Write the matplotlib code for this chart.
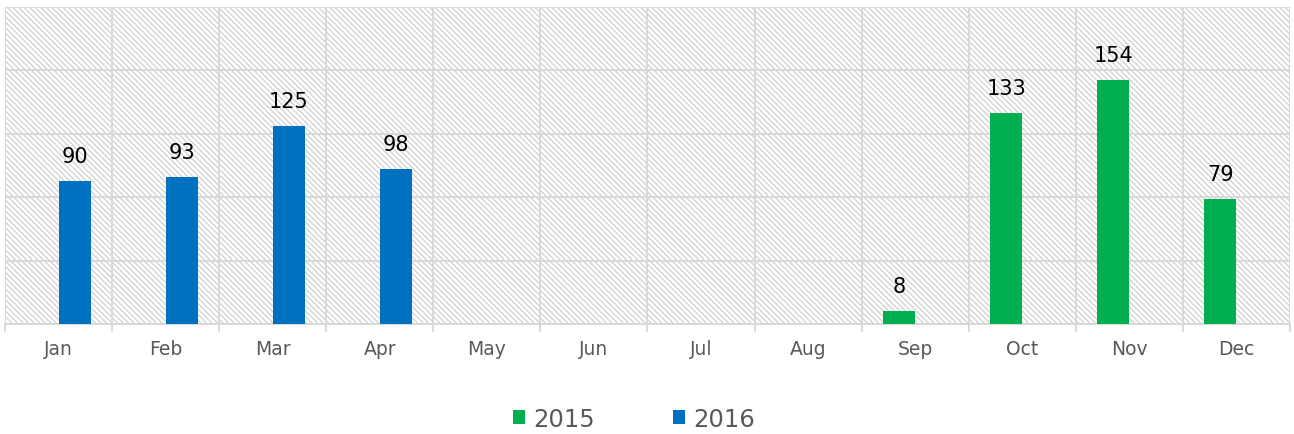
import matplotlib
matplotlib.use('Agg')
import matplotlib.pyplot as plt
from matplotlib.patches import Rectangle, Patch
import numpy as np

months = ['Jan', 'Feb', 'Mar', 'Apr', 'May', 'Jun', 'Jul', 'Aug', 'Sep', 'Oct', 'Nov', 'Dec']
vals_2015 = [np.nan, np.nan, np.nan, np.nan, np.nan, np.nan, np.nan, np.nan, 8, 133, 154, 79]
vals_2016 = [90, 93, 125, 98, np.nan, np.nan, np.nan, np.nan, np.nan, np.nan, np.nan, np.nan]
series_names = ['2015', '2016']
series_colors = ['#00B050', '#0070C0']

grid_col = '#D9D9D9'
text_col = '#595959'
plt.rcParams['hatch.linewidth'] = 0.9

fig = plt.figure(figsize=(12.94, 4.35), dpi=100)
ax = fig.add_axes([5/1294, 110/435, 1285/1294, 317/435])

# hatched background
ax.add_patch(Rectangle((0, 0), 1, 1, transform=ax.transAxes, facecolor='white',
                       edgecolor='#D0D0D0', hatch='\\' * 6, lw=0, zorder=0))

x = np.arange(len(months))
w = 0.3
for vals, off, col in [(vals_2015, -w, series_colors[0]), (vals_2016, 0, series_colors[1])]:
    vals = np.array(vals, dtype=float)
    ax.bar(x + off, vals, width=w, align='edge', color=col, zorder=3)
    for xi, v in zip(x, vals):
        if np.isnan(v):
            continue
        ax.annotate(f'{int(v)}', (xi + off + w / 2, v), xytext=(0, 18), textcoords='offset points',
                    ha='center', va='center', fontsize=15, color='black', zorder=4)

ax.set_xlim(-0.5, 11.5)
ax.set_ylim(0, 200)
ax.set_yticks(np.arange(0, 201, 40))
ax.set_yticklabels([])
ax.tick_params(axis='y', length=0)
ax.set_xticks(x)
ax.set_xticklabels(months, fontsize=13.5, color=text_col)
ax.tick_params(axis='x', which='major', length=0, pad=11)
ax.set_xticks(np.arange(-0.5, 12, 1), minor=True)
ax.tick_params(axis='x', which='minor', length=6, width=1.4, color=grid_col, direction='out')

ax.grid(True, axis='y', color=grid_col, linewidth=1.4, zorder=1)
ax.grid(True, axis='x', which='minor', color=grid_col, linewidth=1.4, zorder=1)
ax.grid(False, axis='x', which='major')
ax.set_axisbelow(True)
for s in ax.spines.values():
    s.set_visible(False)
ax.spines['bottom'].set_visible(True)
ax.spines['bottom'].set_color(grid_col)
ax.spines['bottom'].set_linewidth(1.4)

handles = [Patch(facecolor=c, edgecolor='none', label=n) for n, c in zip(series_names, series_colors)]
fig.legend(handles=handles, loc='center', bbox_to_anchor=(634/1294, 1 - 420/435), ncol=2,
           frameon=False, fontsize=17.5, labelcolor=text_col, handlelength=0.5, handleheight=0.5,
           handletextpad=0.35, columnspacing=3.2)

fig.savefig('out.png', dpi=100)
